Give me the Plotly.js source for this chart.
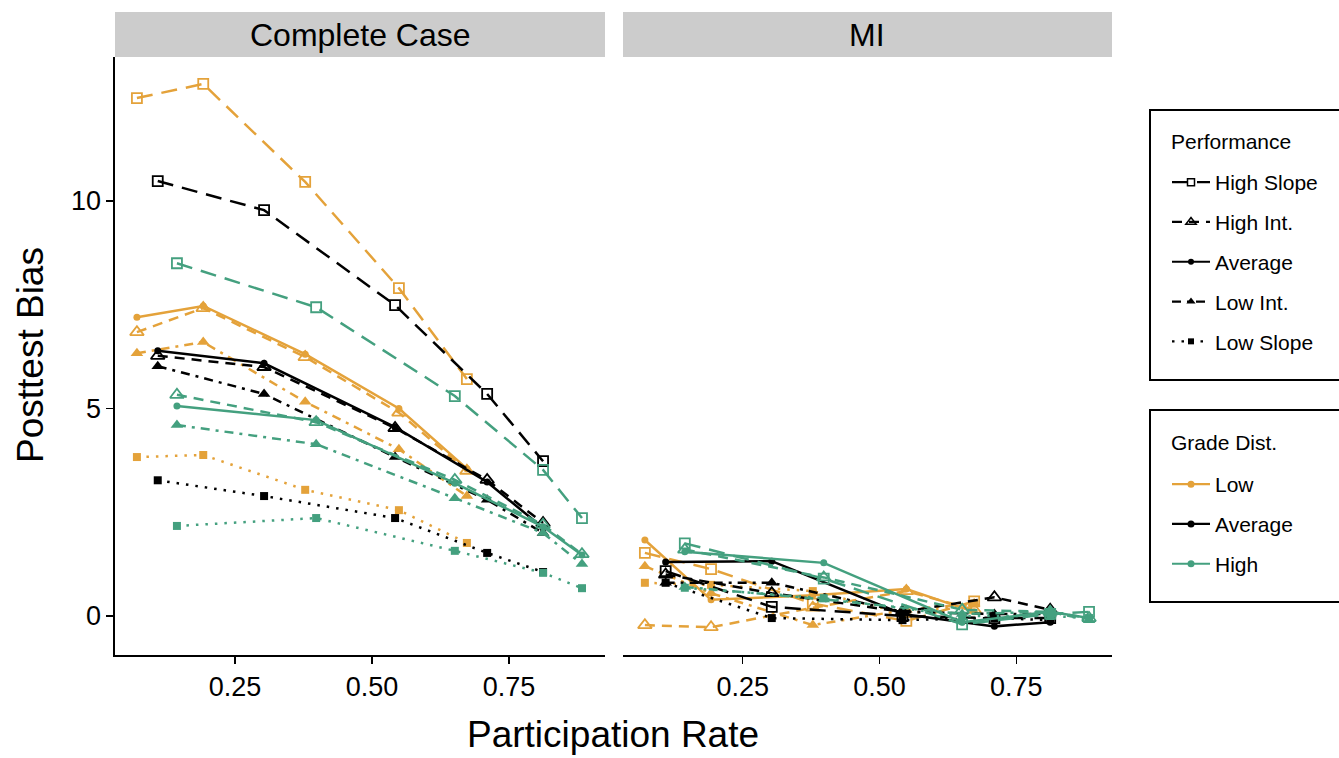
<!DOCTYPE html>
<html>
<head>
<meta charset="utf-8">
<script src="https://cdn.plot.ly/plotly-3.0.1.min.js"></script>
<style>html,body{margin:0;padding:0;background:#fff;}#chart{width:1339px;height:758px;}</style>
</head>
<body>
<div id="chart"></div>
<script>
// ---- data ----
const panels = ["Complete Case", "MI"];
const gradeDists = ["Low", "Average", "High"];
const performances = ["High Slope", "High Int.", "Average", "Low Int.", "Low Slope"];
const legendTitles = ["Performance", "Grade Dist."];

// participation rate (x) per grade distribution
const rateLow = [0.071, 0.192, 0.378, 0.549, 0.673];
const rateAverage = [0.109, 0.303, 0.542, 0.710, 0.812];
const rateHigh = [0.144, 0.398, 0.651, 0.812, 0.883];

// Complete Case posttest bias: [High Slope, High Int., Average, Low Int., Low Slope]
const ccLow = [
  [12.48, 12.82, 10.46, 7.90, 5.71],
  [6.84, 7.42, 6.24, 4.90, 3.50],
  [7.20, 7.47, 6.31, 5.00, 3.55],
  [6.33, 6.60, 5.16, 4.02, 2.89],
  [3.83, 3.88, 3.04, 2.55, 1.76]
];
const ccAverage = [
  [10.48, 9.78, 7.49, 5.35, 3.73],
  [6.27, 6.00, 4.53, 3.28, 2.24],
  [6.39, 6.09, 4.55, 3.23, 2.12],
  [6.02, 5.35, 3.83, 2.80, 2.00],
  [3.27, 2.89, 2.36, 1.52, 1.06]
];
const ccHigh = [
  [8.50, 7.44, 5.30, 3.52, 2.36],
  [5.33, 4.67, 3.28, 2.20, 1.49],
  [5.06, 4.72, 3.20, 2.15, 1.47],
  [4.60, 4.14, 2.84, 2.00, 1.25],
  [2.17, 2.36, 1.57, 1.04, 0.67]
];

// MI posttest bias
const miLow = [
  [1.52, 1.13, 0.30, -0.12, 0.35],
  [-0.22, -0.27, 0.20, 0.60, 0.15],
  [1.83, 0.39, 0.50, 0.65, 0.10],
  [1.20, 0.55, -0.22, 0.15, 0.30],
  [0.80, 0.75, 0.60, 0.05, 0.30]
];
const miAverage = [
  [1.08, 0.22, 0.00, -0.05, -0.05],
  [1.00, 0.55, 0.10, 0.45, 0.15],
  [1.30, 1.32, 0.05, -0.25, -0.15],
  [0.80, 0.80, 0.10, 0.05, 0.05],
  [0.80, -0.05, -0.10, -0.05, -0.10]
];
const miHigh = [
  [1.75, 0.90, -0.20, 0.05, 0.10],
  [1.60, 0.93, 0.15, 0.10, -0.05],
  [1.55, 1.28, -0.15, 0.10, -0.05],
  [0.70, 0.40, 0.05, 0.10, -0.10],
  [0.68, 0.43, 0.00, 0.00, -0.05]
];

// ---- styles ----
const gradeColors = {"Low": "#E4A23A", "Average": "#000000", "High": "#44A07F"};
const perfStyle = {
  "High Slope": {dash: "16px,9px", symbol: "square-open", size: 10, open: true},
  "High Int.": {dash: "10px,7px", symbol: "triangle-up-open", size: 12, open: true},
  "Average": {dash: "solid", symbol: "circle", size: 7, open: false},
  "Low Int.": {dash: "9px,6px,3px,6px", symbol: "triangle-up", size: 11, open: false},
  "Low Slope": {dash: "2.5px,7px", symbol: "square", size: 8, open: false}
};

const rates = {"Low": rateLow, "Average": rateAverage, "High": rateHigh};
const values = {
  "Complete Case": {"Low": ccLow, "Average": ccAverage, "High": ccHigh},
  "MI": {"Low": miLow, "Average": miAverage, "High": miHigh}
};

const traces = [];
panels.forEach((panel, pi) => {
  gradeDists.forEach(g => {
    performances.forEach((perf, k) => {
      const st = perfStyle[perf];
      const col = gradeColors[g];
      traces.push({
        type: "scatter", mode: "lines+markers",
        x: rates[g], y: values[panel][g][k],
        xaxis: pi === 0 ? "x" : "x2", yaxis: pi === 0 ? "y" : "y2",
        line: {color: col, width: 2.5, dash: st.dash},
        marker: {symbol: st.symbol, size: st.size, color: col,
                 line: {color: col, width: st.open ? 1.8 : 0}},
        showlegend: false, hoverinfo: "skip",
        name: panel + " " + g + " " + perf
      });
    });
  });
});

// legend entries
performances.forEach((perf, k) => {
  const st = perfStyle[perf];
  traces.push({
    type: "scatter", mode: "lines+markers", x: [null], y: [null],
    name: perf, legend: "legend", legendgroup: "p" + k, showlegend: true,
    line: {color: "#000", width: 2.2, dash: st.dash},
    marker: {symbol: st.symbol, size: Math.max(6, st.size - 3), color: "#000",
             line: {color: "#000", width: st.open ? 1.5 : 0}}
  });
});
gradeDists.forEach((g, k) => {
  traces.push({
    type: "scatter", mode: "lines+markers", x: [null], y: [null],
    name: g, legend: "legend2", legendgroup: "g" + k, showlegend: true,
    line: {color: gradeColors[g], width: 2.2},
    marker: {symbol: "circle", size: 7, color: gradeColors[g]}
  });
});

const L = 115, R = 227, T = 12, B = 103;
const W = 1339 - L - R, H = 758 - T - B;
const px = v => (v - L) / W;
const py = v => (758 - B - v) / H;

const stripBottom = py(57);
const xr = [0.031, 0.925];
const yr = [-0.94, 13.47];
const fontFam = "Liberation Sans, Arial, Helvetica, sans-serif";
const tickSize = 27;
const legFont = {size: 21, color: "#000", family: fontFam};

const xaxisBase = {
  range: xr, showgrid: false, zeroline: false, showline: true, linecolor: "#000", linewidth: 1.6,
  ticks: "outside", ticklen: 7, tickwidth: 1.4, tickcolor: "#000",
  tickvals: [0.25, 0.5, 0.75], ticktext: ["0.25", "0.50", "0.75"],
  tickfont: {size: tickSize, color: "#000", family: fontFam}, fixedrange: true
};

const layout = {
  width: 1339, height: 758,
  margin: {l: L, r: R, t: T, b: B, autoexpand: false},
  paper_bgcolor: "#fff", plot_bgcolor: "#fff",
  font: {family: fontFam, color: "#000"},
  xaxis: Object.assign({}, xaxisBase, {domain: [0, px(605)], anchor: "y"}),
  xaxis2: Object.assign({}, xaxisBase, {domain: [px(623), 1], anchor: "y2"}),
  yaxis: {
    range: yr, domain: [0, stripBottom], anchor: "x", showgrid: false, zeroline: false,
    showline: true, linecolor: "#000", linewidth: 1.6,
    ticks: "outside", ticklen: 7, tickwidth: 1.4, tickcolor: "#000",
    tickvals: [0, 5, 10], tickfont: {size: tickSize, color: "#000", family: fontFam}, fixedrange: true
  },
  yaxis2: {
    range: yr, domain: [0, stripBottom], anchor: "x2", matches: "y", showgrid: false, zeroline: false,
    showline: false, ticks: "", showticklabels: false, fixedrange: true
  },
  shapes: [
    {type: "rect", xref: "paper", yref: "paper", x0: 0, x1: px(605), y0: stripBottom, y1: 1,
     fillcolor: "#cccccc", line: {width: 0}},
    {type: "rect", xref: "paper", yref: "paper", x0: px(623), x1: 1, y0: stripBottom, y1: 1,
     fillcolor: "#cccccc", line: {width: 0}},
    // legend boxes
    {type: "rect", xref: "paper", yref: "paper", x0: px(1150), x1: px(1345), y0: py(380), y1: py(110),
     fillcolor: "rgba(0,0,0,0)", line: {color: "#000", width: 2}},
    {type: "rect", xref: "paper", yref: "paper", x0: px(1150), x1: px(1345), y0: py(602), y1: py(410),
     fillcolor: "rgba(0,0,0,0)", line: {color: "#000", width: 2}}
  ],
  annotations: [
    {text: panels[0], xref: "paper", yref: "paper", x: px(360), y: py(35), showarrow: false,
     font: {size: 32, color: "#000", family: fontFam}, xanchor: "center", yanchor: "middle"},
    {text: panels[1], xref: "paper", yref: "paper", x: px(867), y: py(35), showarrow: false,
     font: {size: 32, color: "#000", family: fontFam}, xanchor: "center", yanchor: "middle"},
    {text: "Participation Rate", xref: "paper", yref: "paper", x: px(613), y: py(735), showarrow: false,
     font: {size: 37, color: "#000", family: fontFam}, xanchor: "center", yanchor: "middle"},
    {text: "Posttest Bias", xref: "paper", yref: "paper", x: px(30), y: py(355), showarrow: false,
     textangle: -90, font: {size: 37, color: "#000", family: fontFam}, xanchor: "center", yanchor: "middle"},
    {text: legendTitles[0], xref: "paper", yref: "paper", x: px(1169), y: py(141), showarrow: false,
     font: legFont, xanchor: "left", yanchor: "middle"},
    {text: legendTitles[1], xref: "paper", yref: "paper", x: px(1169), y: py(442), showarrow: false,
     font: legFont, xanchor: "left", yanchor: "middle"}
  ],
  legend: {
    x: px(1167), y: py(162), xanchor: "left", yanchor: "top",
    bgcolor: "rgba(0,0,0,0)", borderwidth: 0,
    font: legFont, tracegroupgap: 9.5, itemwidth: 38, itemclick: false, itemdoubleclick: false
  },
  legend2: {
    x: px(1167), y: py(464), xanchor: "left", yanchor: "top",
    bgcolor: "rgba(0,0,0,0)", borderwidth: 0,
    font: legFont, tracegroupgap: 9.5, itemwidth: 38, itemclick: false, itemdoubleclick: false
  }
};

Plotly.newPlot("chart", traces, layout, {displayModeBar: false, staticPlot: true});
</script>
</body>
</html>
